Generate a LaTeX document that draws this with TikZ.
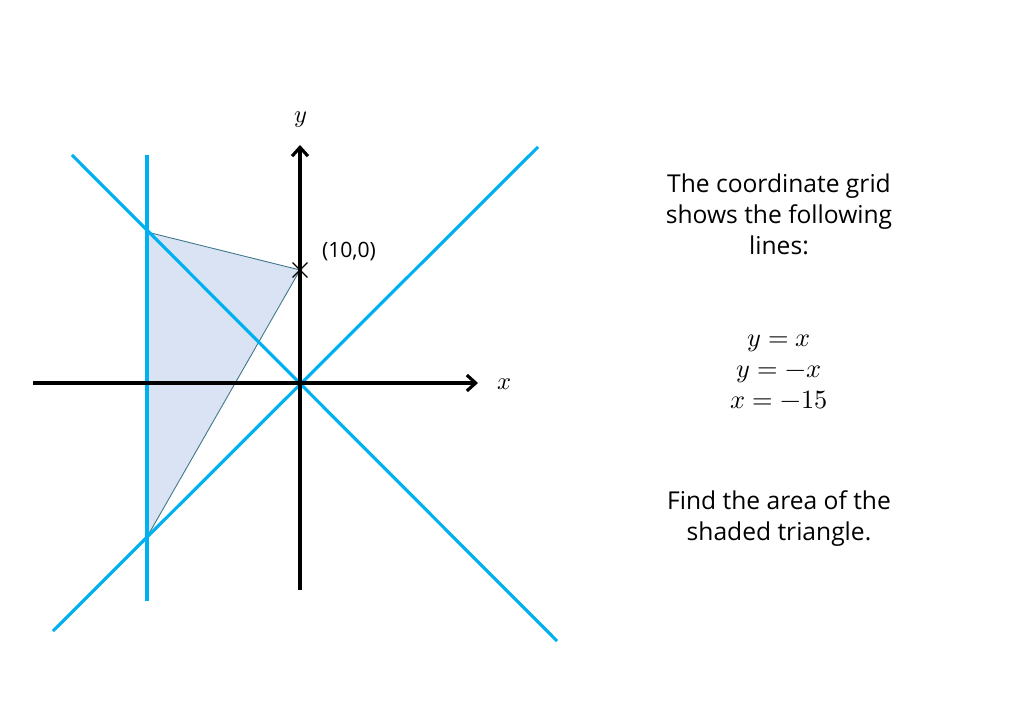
\documentclass[tikz,border=0pt]{standalone}
\usepackage{fontspec}
\setmainfont{Open Sans}
\usepackage{unicode-math}
\setmathfont{Latin Modern Math}
\usetikzlibrary{shapes.misc,arrows.meta}
\definecolor{lineblue}{RGB}{0,176,240}
\definecolor{shadeblue}{RGB}{218,227,243}
\tikzset{cross/.style={cross out, draw=black, minimum size=2*(#1-\pgflinewidth), inner sep=0pt, outer sep=0pt},
cross/.default={5pt},
blueline/.style={lineblue, line width=1.8pt},
axis/.style={black, line width=1.8pt, -{Straight Barb[length=5pt,width=9pt]}},
txt/.style={align=center, font=\fontsize{14}{17.6}\selectfont}}

\begin{document}
\begin{tikzpicture}[x=0.02cm,y=-0.02cm]
\useasboundingbox (0,0) rectangle (1024,709);

% shaded triangle
\coordinate (A) at (147,232);
\coordinate (P) at (300,270);
\coordinate (B) at (147,537);
\fill[shadeblue] (A)--(P)--(B)--cycle;
\draw[color=lineblue!40!gray!80!black, line width=0.5pt] (A)--(P)--(B);

% lines
\draw[blueline] (147,155)--(147,601); % x=-15
\draw[blueline] (53,631)--(538,147); % y=x
\draw[blueline] (72,155)--(557,641); % y=-x

% axes
\draw[axis] (33,383)--(478,383);
\draw[axis] (300,590)--(300,145);
\node[font=\fontsize{14}{17}\selectfont] (xl) at (505,384) {$x$};
\node[font=\fontsize{14}{17}\selectfont] (yl) at (301,120) {$y$};

\node[cross, thick] (pt) at (P) {};
\node[font=\fontsize{12}{14}\selectfont] (ptl) at (349,252) {(10,0)};

% text
\node[txt] (t1) at (779,214) {The coordinate grid\\shows the following\\lines:};
\node[txt, font=\fontsize{15}{17.6}\selectfont] (t2) at (779,372) {$y=x$\\$y=-x$\\$x=-15$};
\node[txt] (t3) at (779,519) {Find the area of the\\shaded triangle.};
\end{tikzpicture}
\end{document}
